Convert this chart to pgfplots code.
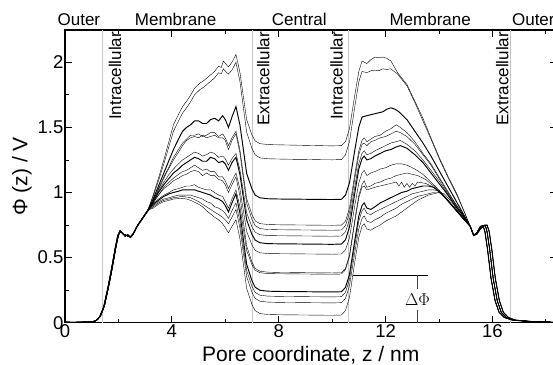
\documentclass[border=0pt]{standalone}
\usepackage{fontspec}
\setmainfont{Liberation Sans}
\usepackage{pgfplots}
\pgfplotsset{compat=1.18}
\begin{document}
\begin{tikzpicture}
\begin{axis}[
  scale only axis,
  width=491.5bp, height=292.7bp,
  xmin=0, xmax=18.4, ymin=0, ymax=2.248,
  xtick={0,4,8,12,16}, minor xtick={2,6,10,14,18},
  ytick={0,0.5,1,1.5,2}, minor ytick={0.25,0.75,1.25,1.75},
  major tick length=7bp, minor tick length=4bp,
  tick style={black, line width=0.8bp},
  axis line style={line width=1.1bp},
  /pgf/number format/assume math mode=true,
  tick label style={font=\fontsize{18.5bp}{20bp}\selectfont},
  yticklabel style={inner xsep=1.5bp},
  xticklabel style={inner ysep=2bp},
  xlabel={Pore coordinate, z / nm},
  ylabel={Φ (z) / V},
  label style={font=\fontsize{21bp}{23bp}\selectfont},
  xlabel style={at={(axis description cs:0.5,0)}, anchor=base, yshift=-38.5bp},
  ylabel style={at={(axis description cs:-0.0875,0.5)}, anchor=center},
  clip=false,
  cycle list={{black, mark=none, line width=0.95bp, line join=round}},
]
% region boundaries
\draw[black!22, line width=0.8bp] (axis cs:1.39,0) -- (axis cs:1.39,2.248);
\draw[black!22, line width=0.8bp] (axis cs:7.0,0) -- (axis cs:7.0,2.248);
\draw[black!22, line width=0.8bp] (axis cs:10.6,0) -- (axis cs:10.6,2.248);
\draw[black!22, line width=0.8bp] (axis cs:16.69,0) -- (axis cs:16.69,2.248);

% curve 1
\addplot coordinates {(0,0.004) (0.5,0.003) (1.0,0.006) (1.15,0.015) (1.3,0.045) (1.45,0.12) (1.6,0.26) (1.75,0.42) (1.88,0.57) (1.98,0.67) (2.06,0.705) (2.15,0.69) (2.25,0.665) (2.35,0.675) (2.45,0.655) (2.55,0.68) (2.7,0.74) (2.9,0.80) (3.1,0.86)
(3.3,0.98) (3.5,1.11) (3.7,1.25) (3.9,1.40) (4.06,1.52) (4.25,1.60) (4.4,1.66) (4.55,1.70) (4.68,1.74) (4.85,1.80) (5.05,1.84) (5.2,1.86) (5.43,1.90) (5.6,1.93) (5.75,1.97) (5.85,1.96) (5.93,2.01) (6.05,1.98) (6.12,1.965) (6.25,2.0) (6.4,2.06)
(6.55,1.921) (6.8,1.56) (7.0,1.441) (7.12,1.396) (7.3,1.375) (7.6,1.368)
(8.0,1.366) (8.5,1.364) (9.0,1.362) (9.5,1.36) (10.0,1.358) (10.35,1.36)
(10.5,1.39) (10.65,1.49) (10.85,1.75) (11.0,1.93) (11.12,2.01)
(11.3,1.99) (11.45,2.02) (11.6,2.04) (11.75,2.035) (11.9,2.04) (12.05,2.03) (12.2,2.01) (12.45,1.92) (12.8,1.83) (13.1,1.70) (13.4,1.57) (13.7,1.42) (14.05,1.25) (14.35,1.12) (14.67,0.99) (14.95,0.85) (15.17,0.74)
(15.3,0.67) (15.42,0.69) (15.55,0.74) (15.65,0.745) (15.72,0.70) (15.82,0.56) (15.95,0.34) (16.1,0.17) (16.25,0.08) (16.45,0.04) (16.75,0.02) (17.5,0.008) (18.3,0.003)};

% curve 2
\addplot coordinates {(0,0.003) (0.5,0.004) (1.0,0.005) (1.18,0.016) (1.33,0.05) (1.48,0.13) (1.63,0.27) (1.78,0.43) (1.91,0.58) (2.0,0.67) (2.08,0.70) (2.17,0.68) (2.27,0.675) (2.37,0.66) (2.47,0.665) (2.57,0.69) (2.72,0.75) (2.92,0.81) (3.1,0.865)
(3.3,0.97) (3.5,1.09) (3.7,1.22) (3.9,1.36) (4.06,1.47) (4.25,1.55) (4.4,1.61) (4.55,1.65) (4.68,1.69) (4.85,1.75) (5.05,1.79) (5.2,1.81) (5.43,1.85) (5.6,1.88) (5.75,1.92) (5.85,1.91) (5.93,1.95) (6.05,1.92) (6.12,1.91) (6.25,1.94) (6.4,2.0)
(6.55,1.851) (6.8,1.464) (7.0,1.337) (7.12,1.289) (7.3,1.266) (7.6,1.259)
(8.0,1.257) (8.5,1.255) (9.0,1.254) (9.5,1.252) (10.0,1.251) (10.35,1.253)
(10.5,1.29) (10.65,1.39) (10.85,1.66) (11.0,1.85) (11.12,1.93)
(11.3,1.92) (11.45,1.935) (11.6,1.94) (11.75,1.935) (11.9,1.95) (12.05,1.945) (12.2,1.95) (12.45,1.91) (12.8,1.82) (13.1,1.69) (13.4,1.55) (13.7,1.41) (14.05,1.24) (14.35,1.11) (14.67,0.98) (14.95,0.85) (15.17,0.74)
(15.3,0.67) (15.42,0.69) (15.55,0.73) (15.65,0.745) (15.73,0.75) (15.8,0.70) (15.9,0.56) (16.03,0.34) (16.18,0.17) (16.33,0.08) (16.52,0.04) (16.8,0.02) (17.5,0.008) (18.3,0.003)};

% curve 3
\addplot coordinates {(0,0.004) (0.5,0.003) (1.0,0.006) (1.15,0.015) (1.3,0.045) (1.45,0.12) (1.6,0.26) (1.75,0.42) (1.88,0.57) (1.98,0.67) (2.06,0.705) (2.15,0.69) (2.25,0.665) (2.35,0.675) (2.45,0.655) (2.55,0.68) (2.7,0.74) (2.9,0.80) (3.1,0.86)
(3.3,0.95) (3.5,1.05) (3.7,1.15) (3.9,1.25) (4.06,1.33) (4.25,1.41) (4.4,1.47) (4.55,1.50) (4.7,1.52) (4.85,1.55) (5.0,1.55) (5.15,1.53) (5.3,1.53) (5.45,1.56) (5.6,1.57) (5.75,1.55) (5.9,1.59) (6.0,1.56) (6.12,1.50) (6.25,1.58) (6.4,1.66)
(6.55,1.518) (6.8,1.147) (7.0,1.026) (7.12,0.98) (7.3,0.959) (7.6,0.952)
(8.0,0.950) (8.5,0.949) (9.0,0.948) (9.5,0.947) (10.0,0.946) (10.35,0.948)
(10.5,0.98) (10.65,1.074) (10.85,1.327) (11.0,1.504) (11.12,1.58)
(11.3,1.59) (11.5,1.60) (11.7,1.61) (11.9,1.62) (12.05,1.64) (12.2,1.65) (12.35,1.64) (12.5,1.62) (12.8,1.56) (13.1,1.47) (13.4,1.38) (13.7,1.28) (14.0,1.17) (14.3,1.06) (14.6,0.95) (14.9,0.84) (15.17,0.74)
(15.3,0.67) (15.42,0.68) (15.55,0.72) (15.7,0.745) (15.8,0.75) (15.88,0.70) (15.98,0.56) (16.11,0.34) (16.26,0.17) (16.41,0.08) (16.6,0.04) (16.85,0.02) (17.5,0.008) (18.3,0.003)};

% curve 4
\addplot coordinates {(0,0.003) (0.5,0.004) (1.0,0.005) (1.18,0.016) (1.33,0.05) (1.48,0.13) (1.63,0.27) (1.78,0.43) (1.91,0.58) (2.0,0.67) (2.08,0.70) (2.17,0.68) (2.27,0.675) (2.37,0.66) (2.47,0.665) (2.57,0.69) (2.72,0.75) (2.92,0.81) (3.1,0.865)
(3.3,0.94) (3.5,1.03) (3.7,1.12) (3.9,1.20) (4.06,1.27) (4.25,1.33) (4.4,1.38) (4.55,1.41) (4.7,1.44) (4.85,1.44) (5.0,1.45) (5.15,1.43) (5.3,1.44) (5.45,1.46) (5.6,1.46) (5.75,1.43) (5.9,1.45) (6.0,1.42) (6.12,1.36) (6.25,1.42) (6.4,1.47)
(6.55,1.326) (6.8,0.952) (7.0,0.829) (7.12,0.782) (7.3,0.761) (7.6,0.754)
(8.0,0.752) (8.5,0.751) (9.0,0.750) (9.5,0.749) (10.0,0.748) (10.35,0.750)
(10.5,0.78) (10.65,0.88) (10.85,1.14) (11.0,1.32) (11.12,1.40)
(11.2,1.42) (11.3,1.39) (11.45,1.41) (11.6,1.43) (11.8,1.44) (12.0,1.47) (12.2,1.49) (12.4,1.52) (12.55,1.50) (12.8,1.46) (13.1,1.39) (13.4,1.30) (13.7,1.22) (14.0,1.12) (14.3,1.02) (14.6,0.92) (14.9,0.83) (15.17,0.74)
(15.3,0.67) (15.42,0.69) (15.55,0.74) (15.65,0.745) (15.72,0.70) (15.82,0.56) (15.95,0.34) (16.1,0.17) (16.25,0.08) (16.45,0.04) (16.75,0.02) (17.5,0.008) (18.3,0.003)};

% curve 5
\addplot coordinates {(0,0.004) (0.5,0.003) (1.0,0.006) (1.15,0.015) (1.3,0.045) (1.45,0.12) (1.6,0.26) (1.75,0.42) (1.88,0.57) (1.98,0.67) (2.06,0.705) (2.15,0.69) (2.25,0.665) (2.35,0.675) (2.45,0.655) (2.55,0.68) (2.7,0.74) (2.9,0.80) (3.1,0.86)
(3.3,0.94) (3.5,1.02) (3.7,1.11) (3.9,1.19) (4.06,1.25) (4.25,1.31) (4.4,1.36) (4.55,1.40) (4.7,1.42) (4.85,1.43) (5.0,1.42) (5.15,1.44) (5.3,1.42) (5.45,1.43) (5.6,1.44) (5.75,1.42) (5.9,1.42) (6.0,1.40) (6.12,1.33) (6.25,1.40) (6.4,1.45)
(6.55,1.302) (6.8,0.919) (7.0,0.793) (7.12,0.745) (7.3,0.723) (7.6,0.716)
(8.0,0.714) (8.5,0.713) (9.0,0.712) (9.5,0.711) (10.0,0.710) (10.35,0.712)
(10.5,0.745) (10.65,0.844) (10.85,1.107) (11.0,1.291) (11.12,1.37)
(11.2,1.38) (11.3,1.36) (11.45,1.39) (11.6,1.40) (11.8,1.42) (12.0,1.43) (12.2,1.45) (12.4,1.47) (12.55,1.46) (12.8,1.43) (13.1,1.37) (13.4,1.29) (13.7,1.21) (14.0,1.11) (14.3,1.01) (14.6,0.92) (14.9,0.83) (15.17,0.74)
(15.3,0.67) (15.42,0.69) (15.55,0.73) (15.65,0.745) (15.73,0.75) (15.8,0.70) (15.9,0.56) (16.03,0.34) (16.18,0.17) (16.33,0.08) (16.52,0.04) (16.8,0.02) (17.5,0.008) (18.3,0.003)};

% curve 6
\addplot coordinates {(0,0.003) (0.5,0.004) (1.0,0.005) (1.18,0.016) (1.33,0.05) (1.48,0.13) (1.63,0.27) (1.78,0.43) (1.91,0.58) (2.0,0.67) (2.08,0.70) (2.17,0.68) (2.27,0.675) (2.37,0.66) (2.47,0.665) (2.57,0.69) (2.72,0.75) (2.92,0.81) (3.1,0.865)
(3.3,0.93) (3.5,1.01) (3.7,1.08) (3.9,1.14) (4.06,1.18) (4.25,1.22) (4.4,1.25) (4.55,1.27) (4.7,1.29) (4.85,1.31) (5.0,1.30) (5.15,1.28) (5.3,1.29) (5.45,1.31) (5.6,1.30) (5.75,1.27) (5.9,1.28) (6.0,1.26) (6.12,1.21) (6.25,1.26) (6.4,1.30)
(6.55,1.173) (6.8,0.844) (7.0,0.736) (7.12,0.695) (7.3,0.676) (7.6,0.669)
(8.0,0.668) (8.5,0.667) (9.0,0.666) (9.5,0.665) (10.0,0.664) (10.35,0.666)
(10.5,0.698) (10.65,0.793) (10.85,1.046) (11.0,1.224) (11.12,1.30)
(11.2,1.32) (11.3,1.29) (11.45,1.30) (11.6,1.32) (11.8,1.34) (12.0,1.36) (12.2,1.38) (12.4,1.39) (12.55,1.40) (12.8,1.37) (13.1,1.32) (13.4,1.25) (13.7,1.17) (14.0,1.09) (14.3,1.00) (14.6,0.91) (14.9,0.82) (15.17,0.74)
(15.3,0.67) (15.42,0.68) (15.55,0.72) (15.7,0.745) (15.8,0.75) (15.88,0.70) (15.98,0.56) (16.11,0.34) (16.26,0.17) (16.41,0.08) (16.6,0.04) (16.85,0.02) (17.5,0.008) (18.3,0.003)};

% curve 7
\addplot coordinates {(0,0.004) (0.5,0.003) (1.0,0.006) (1.15,0.015) (1.3,0.045) (1.45,0.12) (1.6,0.26) (1.75,0.42) (1.88,0.57) (1.98,0.67) (2.06,0.705) (2.15,0.69) (2.25,0.665) (2.35,0.675) (2.45,0.655) (2.55,0.68) (2.7,0.74) (2.9,0.80) (3.1,0.86)
(3.3,0.93) (3.5,1.00) (3.7,1.06) (3.9,1.11) (4.06,1.15) (4.25,1.18) (4.4,1.21) (4.55,1.23) (4.7,1.25) (4.85,1.27) (5.0,1.26) (5.15,1.24) (5.3,1.24) (5.45,1.27) (5.6,1.26) (5.75,1.23) (5.9,1.24) (6.0,1.22) (6.12,1.17) (6.25,1.23) (6.4,1.27)
(6.55,1.137) (6.8,0.79) (7.0,0.677) (7.12,0.634) (7.3,0.614) (7.6,0.607)
(8.0,0.606) (8.5,0.605) (9.0,0.604) (9.5,0.603) (10.0,0.602) (10.35,0.604)
(10.5,0.637) (10.65,0.735) (10.85,0.998) (11.0,1.181) (11.12,1.26)
(11.2,1.28) (11.3,1.25) (11.45,1.26) (11.6,1.28) (11.8,1.30) (12.0,1.32) (12.2,1.33) (12.4,1.35) (12.55,1.36) (12.8,1.34) (13.1,1.29) (13.4,1.23) (13.7,1.15) (14.0,1.07) (14.3,0.99) (14.6,0.90) (14.9,0.82) (15.17,0.74)
(15.3,0.67) (15.42,0.69) (15.55,0.74) (15.65,0.745) (15.72,0.70) (15.82,0.56) (15.95,0.34) (16.1,0.17) (16.25,0.08) (16.45,0.04) (16.75,0.02) (17.5,0.008) (18.3,0.003)};

% curve 8
\addplot coordinates {(0,0.003) (0.5,0.004) (1.0,0.005) (1.18,0.016) (1.33,0.05) (1.48,0.13) (1.63,0.27) (1.78,0.43) (1.91,0.58) (2.0,0.67) (2.08,0.70) (2.17,0.68) (2.27,0.675) (2.37,0.66) (2.47,0.665) (2.57,0.69) (2.72,0.75) (2.92,0.81) (3.1,0.865)
(3.3,0.92) (3.5,0.98) (3.7,1.04) (3.9,1.08) (4.06,1.11) (4.25,1.14) (4.4,1.16) (4.55,1.17) (4.7,1.19) (4.85,1.21) (5.0,1.19) (5.15,1.17) (5.3,1.18) (5.45,1.16) (5.6,1.16) (5.75,1.12) (5.9,1.12) (6.0,1.09) (6.12,1.03) (6.25,1.09) (6.4,1.15)
(6.55,1.026) (6.8,0.702) (7.0,0.596) (7.12,0.556) (7.3,0.537) (7.6,0.531)
(8.0,0.530) (8.5,0.529) (9.0,0.528) (9.5,0.527) (10.0,0.526) (10.35,0.528)
(10.5,0.559) (10.65,0.652) (10.85,0.901) (11.0,1.075) (11.12,1.15)
(11.2,1.17) (11.3,1.13) (11.45,1.15) (11.6,1.16) (11.8,1.18) (12.0,1.19) (12.2,1.21) (12.4,1.22) (12.6,1.22) (12.8,1.21) (13.1,1.18) (13.4,1.14) (13.7,1.08) (14.0,1.02) (14.3,0.95) (14.6,0.88) (14.9,0.81) (15.17,0.74)
(15.3,0.67) (15.42,0.69) (15.55,0.73) (15.65,0.745) (15.73,0.75) (15.8,0.70) (15.9,0.56) (16.03,0.34) (16.18,0.17) (16.33,0.08) (16.52,0.04) (16.8,0.02) (17.5,0.008) (18.3,0.003)};

% curve 9
\addplot coordinates {(0,0.004) (0.5,0.003) (1.0,0.006) (1.15,0.015) (1.3,0.045) (1.45,0.12) (1.6,0.26) (1.75,0.42) (1.88,0.57) (1.98,0.67) (2.06,0.705) (2.15,0.69) (2.25,0.665) (2.35,0.675) (2.45,0.655) (2.55,0.68) (2.7,0.74) (2.9,0.80) (3.1,0.86)
(3.3,0.92) (3.5,0.98) (3.7,1.03) (3.9,1.06) (4.06,1.09) (4.25,1.11) (4.4,1.13) (4.55,1.14) (4.7,1.16) (4.85,1.17) (5.0,1.16) (5.15,1.13) (5.3,1.15) (5.45,1.13) (5.6,1.13) (5.75,1.10) (5.9,1.09) (6.0,1.06) (6.12,1.00) (6.25,1.06) (6.4,1.12)
(6.55,0.973) (6.8,0.59) (7.0,0.465) (7.12,0.417) (7.3,0.395) (7.6,0.388)
(8.0,0.386) (8.5,0.385) (9.0,0.384) (9.5,0.383) (10.0,0.382) (10.35,0.384)
(10.5,0.418) (10.65,0.519) (10.85,0.79) (11.0,0.979) (11.12,1.06)
(11.2,1.09) (11.3,1.04) (11.45,1.05) (11.6,1.07) (11.8,1.08) (12.0,1.10) (12.2,1.11) (12.4,1.13) (12.6,1.14) (12.8,1.15) (13.0,1.14) (13.2,1.13) (13.5,1.10) (13.8,1.05) (14.1,0.99) (14.4,0.92) (14.7,0.85) (14.95,0.79) (15.17,0.74)
(15.3,0.67) (15.42,0.68) (15.55,0.72) (15.7,0.745) (15.8,0.75) (15.88,0.70) (15.98,0.56) (16.11,0.34) (16.26,0.17) (16.41,0.08) (16.6,0.04) (16.85,0.02) (17.5,0.008) (18.3,0.003)};

% curve 10
\addplot coordinates {(0,0.003) (0.5,0.004) (1.0,0.005) (1.18,0.016) (1.33,0.05) (1.48,0.13) (1.63,0.27) (1.78,0.43) (1.91,0.58) (2.0,0.67) (2.08,0.70) (2.17,0.68) (2.27,0.675) (2.37,0.66) (2.47,0.665) (2.57,0.69) (2.72,0.75) (2.92,0.81) (3.1,0.865)
(3.3,0.91) (3.5,0.95) (3.7,0.98) (3.9,1.00) (4.06,1.02) (4.25,1.03) (4.4,1.04) (4.55,1.05) (4.7,1.05) (4.85,1.06) (5.0,1.04) (5.15,1.03) (5.3,1.02) (5.45,1.02) (5.6,1.00) (5.75,0.98) (5.9,0.97) (6.0,0.93) (6.12,0.88) (6.25,0.95) (6.4,1.02)
(6.55,0.891) (6.8,0.555) (7.0,0.445) (7.12,0.403) (7.3,0.384) (7.6,0.377)
(8.0,0.376) (8.5,0.375) (9.0,0.374) (9.5,0.373) (10.0,0.372) (10.35,0.374)
(10.5,0.407) (10.65,0.507) (10.85,0.774) (11.0,0.96) (11.12,1.04)
(11.2,1.05) (11.3,1.02) (11.45,1.03) (11.6,1.04) (11.8,1.05) (12.0,1.06) (12.2,1.07) (12.4,1.08) (12.5,1.05) (12.6,1.08) (12.7,1.04) (12.8,1.07) (12.9,1.04) (13.0,1.07) (13.1,1.05) (13.2,1.08) (13.5,1.07) (13.8,1.04) (14.1,0.99) (14.4,0.92) (14.7,0.85) (14.95,0.79) (15.17,0.74)
(15.3,0.67) (15.42,0.69) (15.55,0.74) (15.65,0.745) (15.72,0.70) (15.82,0.56) (15.95,0.34) (16.1,0.17) (16.25,0.08) (16.45,0.04) (16.75,0.02) (17.5,0.008) (18.3,0.003)};

% curve 11
\addplot coordinates {(0,0.004) (0.5,0.003) (1.0,0.006) (1.15,0.015) (1.3,0.045) (1.45,0.12) (1.6,0.26) (1.75,0.42) (1.88,0.57) (1.98,0.67) (2.06,0.705) (2.15,0.69) (2.25,0.665) (2.35,0.675) (2.45,0.655) (2.55,0.68) (2.7,0.74) (2.9,0.80) (3.1,0.86)
(3.3,0.91) (3.5,0.94) (3.7,0.97) (3.9,0.99) (4.06,1.00) (4.25,1.01) (4.4,1.02) (4.55,1.02) (4.7,1.02) (4.85,1.02) (5.0,1.01) (5.15,1.00) (5.3,0.99) (5.45,0.98) (5.6,0.96) (5.75,0.95) (5.9,0.93) (6.0,0.90) (6.12,0.85) (6.25,0.92) (6.4,0.99)
(6.55,0.84) (6.8,0.449) (7.0,0.321) (7.12,0.272) (7.3,0.249) (7.6,0.242)
(8.0,0.240) (8.5,0.239) (9.0,0.238) (9.5,0.237) (10.0,0.236) (10.35,0.238)
(10.5,0.271) (10.65,0.37) (10.85,0.635) (11.0,0.821) (11.12,0.90)
(11.2,0.92) (11.3,0.88) (11.45,0.87) (11.6,0.89) (11.8,0.92) (12.0,0.94) (12.2,0.96) (12.4,0.98) (12.6,1.00) (12.8,1.01) (13.0,1.03) (13.2,1.04) (13.4,1.05) (13.6,1.05) (13.8,1.04) (14.1,0.99) (14.4,0.92) (14.7,0.85) (14.95,0.79) (15.17,0.74)
(15.3,0.67) (15.42,0.69) (15.55,0.73) (15.65,0.745) (15.73,0.75) (15.8,0.70) (15.9,0.56) (16.03,0.34) (16.18,0.17) (16.33,0.08) (16.52,0.04) (16.8,0.02) (17.5,0.008) (18.3,0.003)};

% curve 12
\addplot coordinates {(0,0.003) (0.5,0.004) (1.0,0.005) (1.18,0.016) (1.33,0.05) (1.48,0.13) (1.63,0.27) (1.78,0.43) (1.91,0.58) (2.0,0.67) (2.08,0.70) (2.17,0.68) (2.27,0.675) (2.37,0.66) (2.47,0.665) (2.57,0.69) (2.72,0.75) (2.92,0.81) (3.1,0.865)
(3.3,0.90) (3.5,0.93) (3.7,0.95) (3.9,0.96) (4.06,0.97) (4.25,0.98) (4.4,0.98) (4.55,0.98) (4.7,0.98) (4.85,0.97) (5.0,0.96) (5.15,0.95) (5.3,0.93) (5.45,0.92) (5.6,0.89) (5.75,0.88) (5.9,0.86) (6.0,0.84) (6.12,0.80) (6.25,0.86) (6.4,0.92)
(6.55,0.776) (6.8,0.402) (7.0,0.279) (7.12,0.232) (7.3,0.211) (7.6,0.204)
(8.0,0.202) (8.5,0.201) (9.0,0.200) (9.5,0.199) (10.0,0.198) (10.35,0.200)
(10.5,0.233) (10.65,0.332) (10.85,0.596) (11.0,0.781) (11.12,0.86)
(11.2,0.88) (11.3,0.84) (11.45,0.83) (11.6,0.85) (11.8,0.87) (12.0,0.89) (12.2,0.91) (12.4,0.93) (12.6,0.95) (12.8,0.97) (13.0,0.99) (13.2,1.00) (13.4,1.01) (13.6,1.02) (13.8,1.02) (14.0,1.01) (14.3,0.95) (14.6,0.87) (14.9,0.80) (15.17,0.74)
(15.3,0.67) (15.42,0.68) (15.55,0.72) (15.7,0.745) (15.8,0.75) (15.88,0.70) (15.98,0.56) (16.11,0.34) (16.26,0.17) (16.41,0.08) (16.6,0.04) (16.85,0.02) (17.5,0.008) (18.3,0.003)};

% curve 13
\addplot coordinates {(0,0.004) (0.5,0.003) (1.0,0.006) (1.15,0.015) (1.3,0.045) (1.45,0.12) (1.6,0.26) (1.75,0.42) (1.88,0.57) (1.98,0.67) (2.06,0.705) (2.15,0.69) (2.25,0.665) (2.35,0.675) (2.45,0.655) (2.55,0.68) (2.7,0.74) (2.9,0.80) (3.1,0.86)
(3.3,0.89) (3.5,0.92) (3.7,0.94) (3.9,0.95) (4.06,0.96) (4.25,0.965) (4.4,0.97) (4.55,0.965) (4.7,0.96) (4.85,0.945) (5.0,0.93) (5.15,0.91) (5.3,0.89) (5.45,0.87) (5.6,0.85) (5.75,0.83) (5.9,0.81) (6.0,0.79) (6.12,0.76) (6.25,0.81) (6.4,0.87)
(6.55,0.727) (6.8,0.354) (7.0,0.233) (7.12,0.186) (7.3,0.165) (7.6,0.158)
(8.0,0.156) (8.5,0.155) (9.0,0.154) (9.5,0.153) (10.0,0.152) (10.35,0.154)
(10.5,0.186) (10.65,0.283) (10.85,0.542) (11.0,0.722) (11.12,0.80)
(11.2,0.82) (11.3,0.78) (11.45,0.77) (11.6,0.79) (11.8,0.81) (12.0,0.84) (12.2,0.86) (12.4,0.88) (12.6,0.91) (12.8,0.93) (13.0,0.95) (13.2,0.97) (13.4,0.98) (13.6,0.99) (13.8,1.00) (14.0,1.00) (14.3,0.95) (14.6,0.87) (14.9,0.80) (15.17,0.74)
(15.3,0.67) (15.42,0.69) (15.55,0.74) (15.65,0.745) (15.72,0.70) (15.82,0.56) (15.95,0.34) (16.1,0.17) (16.25,0.08) (16.45,0.04) (16.75,0.02) (17.5,0.008) (18.3,0.003)};

% curve 14
\addplot coordinates {(0,0.003) (0.5,0.004) (1.0,0.005) (1.18,0.016) (1.33,0.05) (1.48,0.13) (1.63,0.27) (1.78,0.43) (1.91,0.58) (2.0,0.67) (2.08,0.70) (2.17,0.68) (2.27,0.675) (2.37,0.66) (2.47,0.665) (2.57,0.69) (2.72,0.75) (2.92,0.81) (3.1,0.865)
(3.3,0.88) (3.5,0.91) (3.7,0.93) (3.9,0.94) (4.06,0.95) (4.25,0.953) (4.4,0.955) (4.55,0.95) (4.7,0.94) (4.85,0.925) (5.0,0.91) (5.15,0.89) (5.3,0.86) (5.45,0.835) (5.6,0.81) (5.75,0.79) (5.9,0.76) (6.0,0.73) (6.12,0.69) (6.25,0.74) (6.4,0.79)
(6.55,0.644) (6.8,0.264) (7.0,0.139) (7.12,0.092) (7.3,0.07) (7.6,0.063)
(8.0,0.061) (8.5,0.060) (9.0,0.059) (9.5,0.058) (10.0,0.057) (10.35,0.059)
(10.5,0.093) (10.65,0.195) (10.85,0.468) (11.0,0.658) (11.12,0.74)
(11.2,0.76) (11.3,0.72) (11.45,0.71) (11.6,0.73) (11.8,0.75) (12.0,0.78) (12.2,0.80) (12.4,0.82) (12.6,0.85) (12.8,0.88) (13.0,0.91) (13.2,0.94) (13.4,0.96) (13.6,0.98) (13.8,0.99) (14.0,1.00) (14.2,0.99) (14.5,0.92) (14.8,0.83) (15.17,0.74)
(15.3,0.67) (15.42,0.69) (15.55,0.73) (15.65,0.745) (15.73,0.75) (15.8,0.70) (15.9,0.56) (16.03,0.34) (16.18,0.17) (16.33,0.08) (16.52,0.04) (16.8,0.02) (17.5,0.008) (18.3,0.003)};

% Delta Phi annotation
\draw[black, line width=0.8bp] (axis cs:10.78,0.366) -- (axis cs:13.6,0.366);
\draw[black!75, line width=0.8bp] (axis cs:13.2,0.366) -- (axis cs:13.2,0.26);
\draw[black!75, line width=0.8bp] (axis cs:13.2,0.10) -- (axis cs:13.2,0);
\node[font=\fontsize{17bp}{19bp}\selectfont, inner sep=0pt] at (axis cs:13.2,0.18) {$\Delta\Phi$};

% region labels (top)
\begin{scope}[every node/.style={font=\fontsize{17bp}{19bp}\selectfont, inner sep=0pt, anchor=base}]
\node at ([yshift=4bp]axis cs:0.52,2.248) {Outer};
\node at ([yshift=4bp]axis cs:4.14,2.248) {Membrane};
\node at ([yshift=4bp]axis cs:8.77,2.248) {Central};
\node at ([yshift=4bp]axis cs:13.67,2.248) {Membrane};
\node[anchor=base west] at ([yshift=4bp]axis cs:16.73,2.248) {Outer};
\end{scope}
% rotated labels
\begin{scope}[every node/.style={font=\fontsize{17bp}{19bp}\selectfont, inner sep=0pt, rotate=90, anchor=east}]
\node at (axis cs:1.87,2.235) {Intracellular};
\node at (axis cs:7.42,2.235) {Extracellular};
\node at (axis cs:10.17,2.235) {Intracellular};
\node at (axis cs:16.37,2.235) {Extracellular};
\end{scope}
\end{axis}
\pgfresetboundingbox
\path ([xshift=-65bp,yshift=-42.3bp]current axis.south west) rectangle ([xshift=-3.5bp,yshift=30bp]current axis.north east);
\end{tikzpicture}
\end{document}
